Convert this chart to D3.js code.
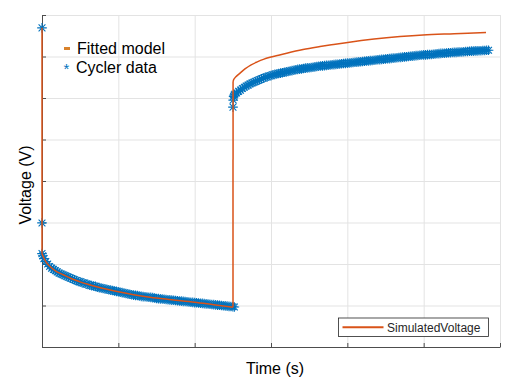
<!DOCTYPE html>
<html>
<head>
<meta charset="utf-8">
<script src="https://cdn.jsdelivr.net/npm/d3@7"></script>
<style>
  body { margin: 0; background: #fff; }
  svg { font-family: "Liberation Sans", Arial, sans-serif; }
  .grid line { stroke: #e3e3e3; stroke-width: 1; }
  .grid path { display: none; }
  .axis path, .axis line { stroke: #4d4d4d; }
</style>
</head>
<body>
<script>
'use strict';

// time ticks (s) and voltage ticks (V); no tick labels shown in the figure
const timeTicks = [0, 1000, 2000, 3000, 4000, 5000, 6000];
const voltTicks = [3.4, 3.5, 3.6, 3.7, 3.8, 3.9, 4.0, 4.1, 4.2];

// fitted model: [time, voltage]
const modelRest = [[0, 4.169], [0, 3.625]];
const modelDischarge = [
  [0, 3.625], [30, 3.612], [60, 3.603], [105, 3.594], [180, 3.583],
  [279, 3.574], [380, 3.565], [498, 3.557], [600, 3.551], [717, 3.545],
  [850, 3.539], [1000, 3.533], [1200, 3.526], [1415, 3.520], [1700, 3.514],
  [2000, 3.508], [2250, 3.502], [2502, 3.496]
];
const modelRelax = [
  [2503, 4.039], [2510, 4.044], [2540, 4.051], [2594, 4.060], [2659, 4.070],
  [2740, 4.080], [2820, 4.087], [2900, 4.093], [2987, 4.098], [3100, 4.103],
  [3206, 4.108], [3420, 4.117], [3642, 4.124], [3820, 4.129], [4005, 4.134],
  [4350, 4.142], [4690, 4.148], [4992, 4.152], [5400, 4.155], [5817, 4.158]
];

// cycler data, first pulse (discharge): [time, voltage]
const cyclerDischarge = [
  [0, 4.169], [0, 3.699], [0, 3.625], [10, 3.620], [25, 3.613], [50, 3.606],
  [75, 3.600], [100, 3.594], [125, 3.590], [150, 3.587], [175, 3.584],
  [200, 3.581], [225, 3.578], [250, 3.576], [275, 3.574], [300, 3.572],
  [325, 3.570], [350, 3.568], [375, 3.566], [400, 3.564], [425, 3.562],
  [450, 3.560], [475, 3.558], [500, 3.557], [525, 3.555], [550, 3.554],
  [575, 3.552], [600, 3.551], [625, 3.549], [650, 3.548], [675, 3.547],
  [700, 3.546], [725, 3.544], [750, 3.543], [775, 3.542], [800, 3.541],
  [825, 3.540], [850, 3.539], [875, 3.538], [900, 3.537], [925, 3.536],
  [950, 3.535], [975, 3.534], [1000, 3.533], [1025, 3.532], [1050, 3.531],
  [1075, 3.530], [1100, 3.529], [1125, 3.528], [1150, 3.527], [1175, 3.526],
  [1200, 3.525], [1225, 3.5245], [1250, 3.524], [1275, 3.523], [1300, 3.522],
  [1325, 3.5215], [1350, 3.521], [1375, 3.5205], [1400, 3.520], [1425, 3.5195],
  [1450, 3.519], [1475, 3.518], [1500, 3.517], [1525, 3.5165], [1550, 3.516],
  [1575, 3.5155], [1600, 3.515], [1625, 3.5145], [1650, 3.514], [1675, 3.5135],
  [1700, 3.513], [1725, 3.5125], [1750, 3.512], [1775, 3.5115], [1800, 3.511],
  [1825, 3.5105], [1850, 3.510], [1875, 3.5095], [1900, 3.509], [1925, 3.5085],
  [1950, 3.508], [1975, 3.5075], [2000, 3.507], [2025, 3.5065], [2050, 3.506],
  [2075, 3.5055], [2100, 3.505], [2125, 3.5045], [2150, 3.504], [2175, 3.5035],
  [2200, 3.503], [2225, 3.5025], [2250, 3.502], [2275, 3.5015], [2300, 3.501],
  [2325, 3.5005], [2350, 3.500], [2375, 3.4995], [2400, 3.499], [2425, 3.4985],
  [2450, 3.498], [2475, 3.4975], [2500, 3.497], [2520, 3.4965]
];

// cycler data, relaxation after the pulse: [time, voltage]
const cyclerRelax = [
  [2502, 3.978], [2505, 3.995], [2510, 4.004], [2518, 4.007], [2525, 4.009],
  [2550, 4.012], [2575, 4.016], [2600, 4.019], [2625, 4.023], [2650, 4.026],
  [2675, 4.029], [2700, 4.031], [2725, 4.034], [2750, 4.036], [2775, 4.038],
  [2800, 4.040], [2825, 4.042], [2850, 4.044], [2875, 4.046], [2900, 4.048],
  [2925, 4.050], [2950, 4.051], [2975, 4.053], [3000, 4.054], [3025, 4.056],
  [3050, 4.057], [3075, 4.058], [3100, 4.059], [3125, 4.060], [3150, 4.061],
  [3175, 4.062], [3200, 4.063], [3225, 4.064], [3250, 4.065], [3275, 4.066],
  [3300, 4.067], [3325, 4.068], [3350, 4.069], [3375, 4.0695], [3400, 4.070],
  [3425, 4.071], [3450, 4.072], [3475, 4.0725], [3500, 4.073], [3525, 4.0735],
  [3550, 4.074], [3575, 4.075], [3600, 4.076], [3625, 4.0765], [3650, 4.077],
  [3675, 4.0775], [3700, 4.078], [3725, 4.0785], [3750, 4.079], [3775, 4.0795],
  [3800, 4.080], [3825, 4.0805], [3850, 4.081], [3875, 4.0815], [3900, 4.082],
  [3925, 4.0825], [3950, 4.083], [3975, 4.0835], [4000, 4.084], [4025, 4.0845],
  [4050, 4.085], [4075, 4.0855], [4100, 4.086], [4125, 4.0865], [4150, 4.087],
  [4175, 4.0875], [4200, 4.088], [4225, 4.0885], [4250, 4.089], [4275, 4.0895],
  [4300, 4.090], [4325, 4.0905], [4350, 4.091], [4375, 4.0915], [4400, 4.092],
  [4425, 4.0925], [4450, 4.093], [4475, 4.0935], [4500, 4.094], [4525, 4.0945],
  [4550, 4.095], [4575, 4.0955], [4600, 4.096], [4625, 4.0965], [4650, 4.097],
  [4675, 4.0975], [4700, 4.098], [4725, 4.0985], [4750, 4.099], [4775, 4.0995],
  [4800, 4.100], [4825, 4.1005], [4850, 4.101], [4875, 4.1015], [4900, 4.102],
  [4925, 4.1025], [4950, 4.103], [4975, 4.1035], [5000, 4.104], [5025, 4.104],
  [5050, 4.1045], [5075, 4.105], [5100, 4.105], [5125, 4.1055], [5150, 4.106],
  [5175, 4.1065], [5200, 4.107], [5225, 4.1075], [5250, 4.108], [5275, 4.108],
  [5300, 4.1085], [5325, 4.109], [5350, 4.109], [5375, 4.1095], [5400, 4.110],
  [5425, 4.110], [5450, 4.1105], [5475, 4.111], [5500, 4.111], [5525, 4.1115],
  [5550, 4.112], [5575, 4.112], [5600, 4.1125], [5625, 4.113], [5650, 4.113],
  [5675, 4.1135], [5700, 4.1135], [5725, 4.114], [5750, 4.114], [5775, 4.1145],
  [5800, 4.1145], [5825, 4.115], [5850, 4.115]
];

const width = 512, height = 384;
const margin = { top: 15, right: 12, bottom: 37, left: 42 };
const plotW = width - margin.left - margin.right;
const plotH = height - margin.top - margin.bottom;

const blue = "#0072BD";
const orange = "#D95319";

const svg = d3.select("body").append("svg")
  .attr("width", width)
  .attr("height", height);

const x = d3.scaleLinear().domain([0, 6000]).range([0, plotW]);
const y = d3.scaleLinear().domain([3.4, 4.2]).range([plotH, 0]);

const chart = svg.append("g")
  .attr("transform", `translate(${margin.left}, ${margin.top})`);

// grid
chart.append("g")
  .attr("class", "grid")
  .attr("transform", `translate(0, ${plotH})`)
  .call(d3.axisBottom(x).tickValues(timeTicks).tickSize(-plotH).tickFormat(""));
chart.append("g")
  .attr("class", "grid")
  .call(d3.axisLeft(y).tickValues(voltTicks).tickSize(-plotW).tickFormat(""));

// axes with inward ticks
chart.append("g")
  .attr("class", "axis")
  .attr("transform", `translate(0, ${plotH})`)
  .call(d3.axisBottom(x).tickValues(timeTicks).tickSizeInner(-4).tickSizeOuter(0).tickFormat(""));
chart.append("g")
  .attr("class", "axis")
  .call(d3.axisLeft(y).tickValues(voltTicks).tickSizeInner(-4).tickSizeOuter(0).tickFormat(""));

// asterisk markers
const r = 4.8, d = 3.4;
const asterisk = `M${-r},0H${r}M0,${-r}V${r}M${-d},${-d}L${d},${d}M${-d},${d}L${d},${-d}`;

chart.append("g")
  .selectAll("path")
  .data(cyclerDischarge.concat(cyclerRelax))
  .enter().append("path")
    .attr("d", asterisk)
    .attr("transform", function (p) {
      return `translate(${x(p[0])}, ${y(p[1])})`;
    })
    .attr("fill", "none")
    .attr("stroke", blue)
    .attr("stroke-width", 1.1);

// fitted model: smooth pieces joined by the vertical steps
const smooth = d3.line()
  .x(function (p) { return x(p[0]); })
  .y(function (p) { return y(p[1]); })
  .curve(d3.curveMonotoneX);
const straight = d3.line()
  .x(function (p) { return x(p[0]); })
  .y(function (p) { return y(p[1]); });

const modelStep = [modelDischarge[modelDischarge.length - 1], modelRelax[0]];
[[modelRest, straight], [modelDischarge, smooth], [modelStep, straight], [modelRelax, smooth]]
  .forEach(function (piece) {
    chart.append("path")
      .datum(piece[0])
      .attr("d", piece[1])
      .attr("fill", "none")
      .attr("stroke", orange)
      .attr("stroke-width", 1.5);
  });

// legend top left (no box)
svg.append("rect")
  .attr("x", 64).attr("y", 47)
  .attr("width", 6).attr("height", 3)
  .attr("fill", "#D9822B");
svg.append("text")
  .attr("x", 77).attr("y", 53.5)
  .attr("font-size", 16)
  .attr("fill", "#000")
  .text("Fitted model");
svg.append("text")
  .attr("x", 63.5).attr("y", 74)
  .attr("font-size", 15)
  .attr("fill", blue)
  .text("*");
svg.append("text")
  .attr("x", 76).attr("y", 73)
  .attr("font-size", 16)
  .attr("fill", "#000")
  .text("Cycler data");

// legend bottom right (boxed)
const lg = svg.append("g").attr("transform", "translate(338.5, 318)");
lg.append("rect")
  .attr("width", 150).attr("height", 18.5)
  .attr("fill", "#fff")
  .attr("stroke", "#262626")
  .attr("stroke-width", 0.8);
lg.append("line")
  .attr("x1", 4).attr("x2", 45)
  .attr("y1", 9.3).attr("y2", 9.3)
  .attr("stroke", orange)
  .attr("stroke-width", 2);
lg.append("text")
  .attr("x", 48.5).attr("y", 13.5)
  .attr("font-size", 12)
  .attr("fill", "#262626")
  .text("SimulatedVoltage");

// axis titles
svg.append("text")
  .attr("x", margin.left + plotW / 2 + 4)
  .attr("y", 374)
  .attr("text-anchor", "middle")
  .attr("font-size", 16)
  .attr("fill", "#000")
  .text("Time (s)");
svg.append("text")
  .attr("transform", `translate(31, ${margin.top + plotH / 2 + 4}) rotate(-90)`)
  .attr("text-anchor", "middle")
  .attr("font-size", 16)
  .attr("fill", "#000")
  .text("Voltage (V)");
</script>
</body>
</html>
